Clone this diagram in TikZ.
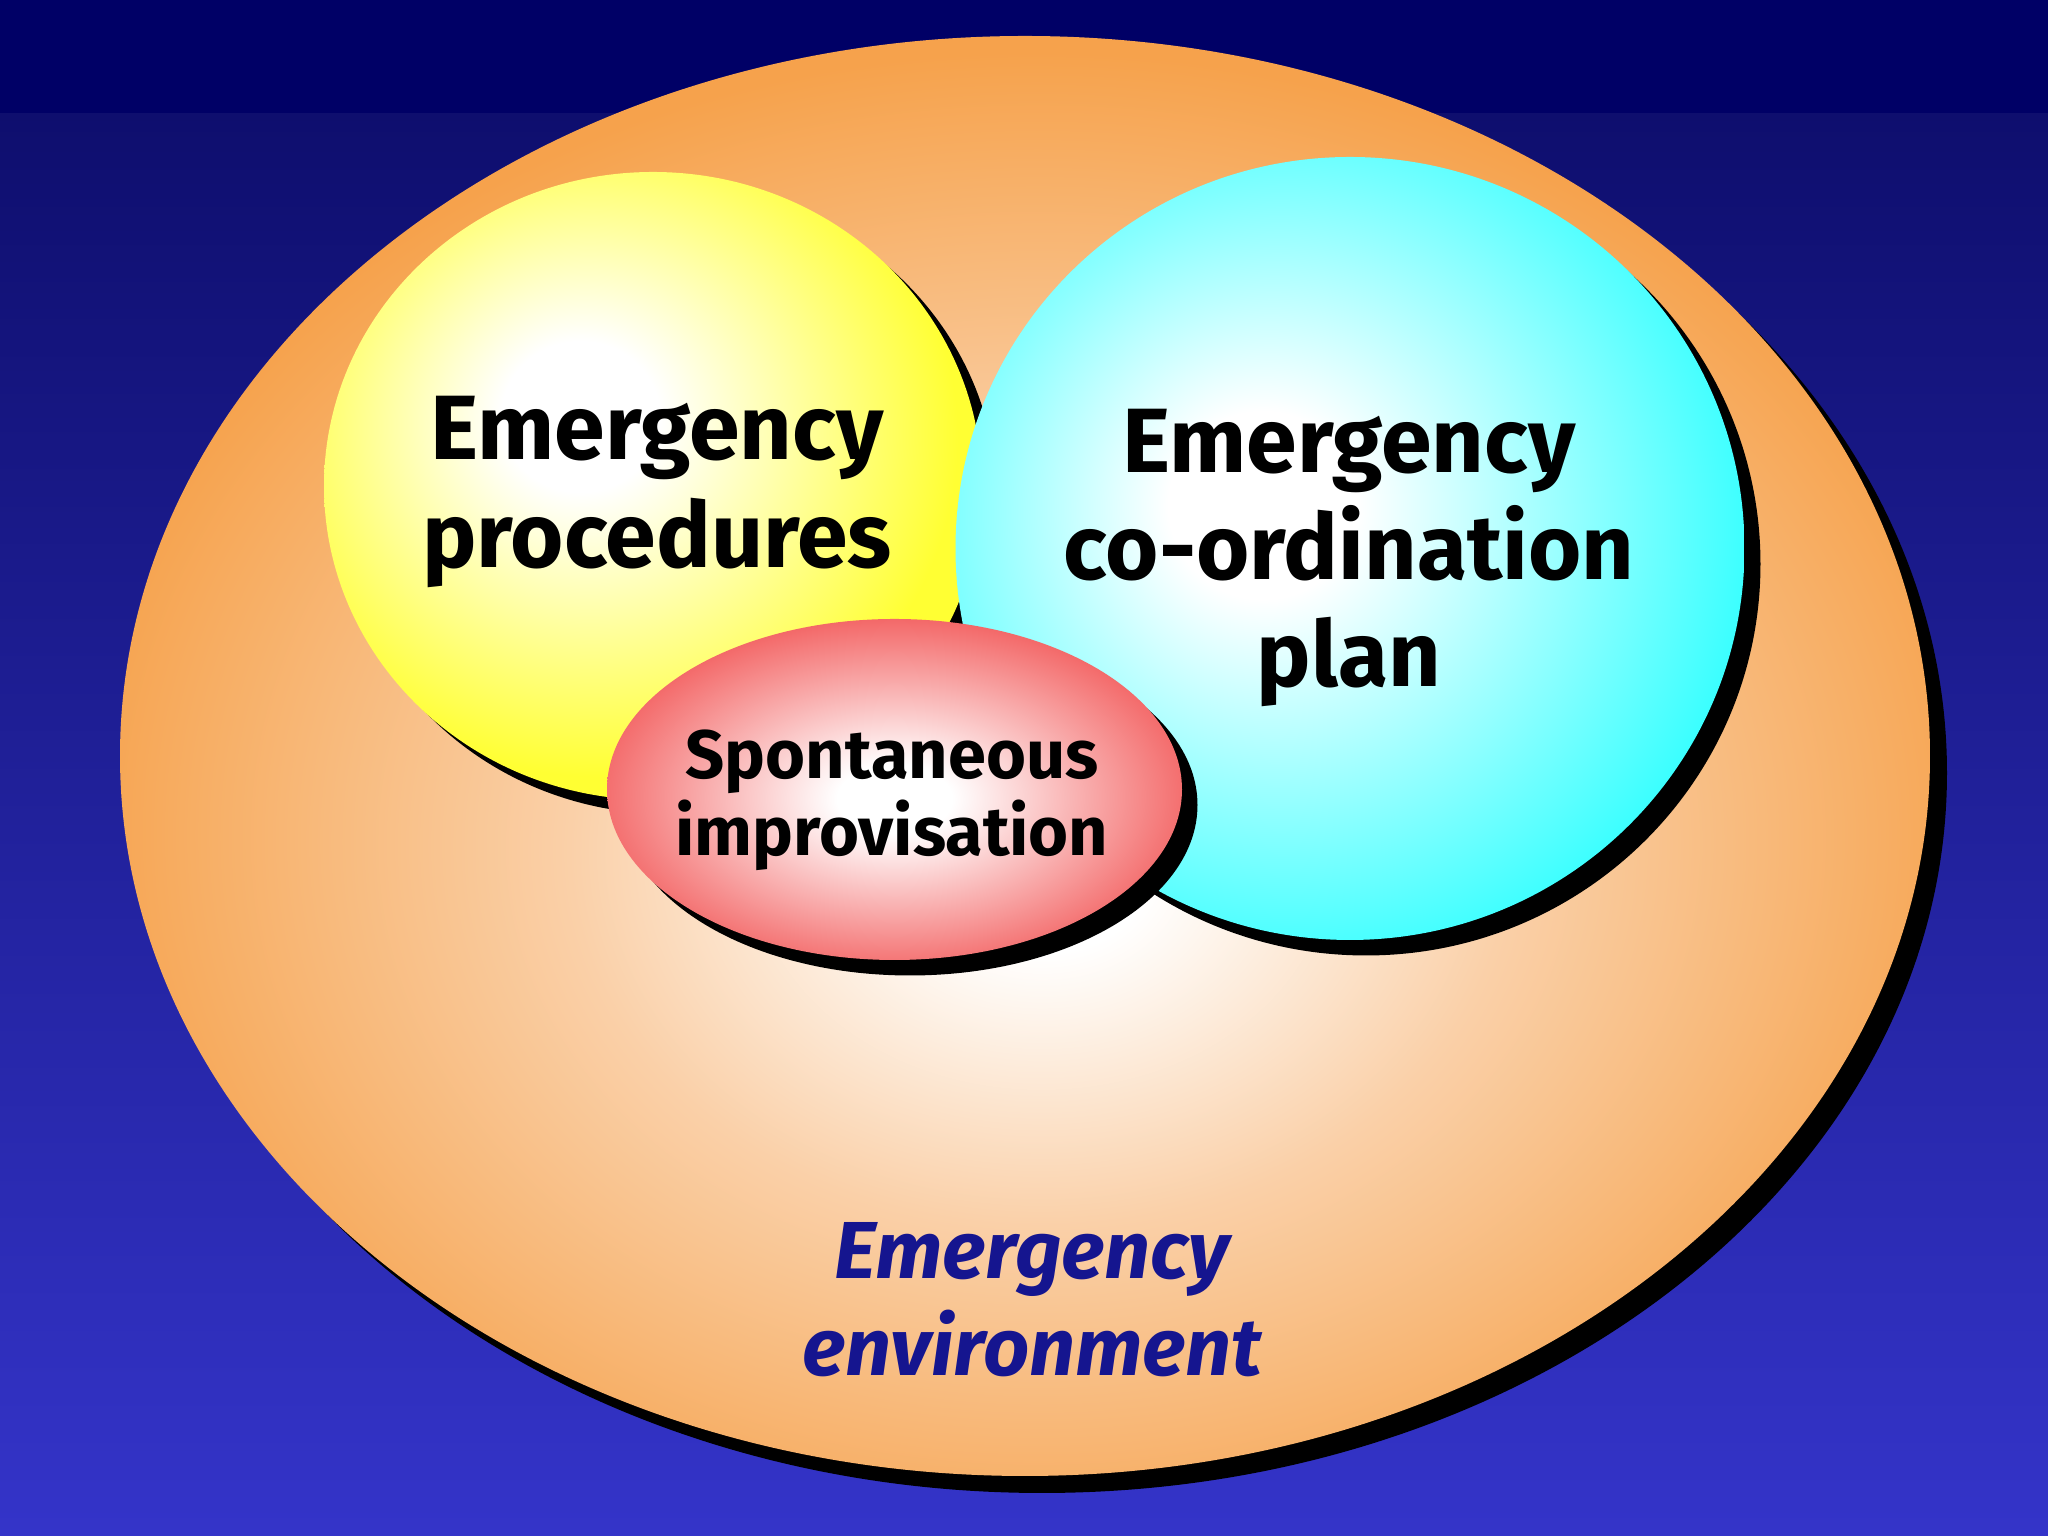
\documentclass[tikz,border=0pt]{standalone}
\usepackage{fontspec}
\setmainfont{Fira Sans}
\usepackage{tikz}

\definecolor{bgtop}{HTML}{000066}
\definecolor{bgmid}{HTML}{0E0E6E}
\definecolor{bgbot}{HTML}{3434C9}
\definecolor{envblue}{HTML}{15158F}
\definecolor{ballyellow}{HTML}{FFFF33}
\definecolor{ballyellowdk}{HTML}{E6E622}
\definecolor{ballcyan}{HTML}{33FFFF}
\definecolor{ballcyandk}{HTML}{20DCDC}
\definecolor{ballred}{HTML}{F25A5A}
\definecolor{ballreddk}{HTML}{D84444}
\definecolor{ballorange}{HTML}{F6A24C}
\definecolor{ballorangedk}{HTML}{EC8E34}
\definecolor{lightorange}{HTML}{FAD0A8}

\pgfdeclareradialshading{yellowball}{\pgfpoint{-6bp}{6bp}}{color(0bp)=(white); color(6bp)=(white); color(27bp)=(ballyellow); color(58bp)=(ballyellow); color(75bp)=(ballyellowdk)}
\pgfdeclareradialshading{cyanball}{\pgfpoint{-6bp}{3bp}}{color(0bp)=(white); color(6bp)=(white); color(30bp)=(ballcyan); color(58bp)=(ballcyan); color(75bp)=(ballcyandk)}
\pgfdeclareradialshading{redball}{\pgfpoint{0bp}{-1.5bp}}{color(0bp)=(white); color(5bp)=(white); color(28bp)=(ballred); color(52bp)=(ballred); color(75bp)=(ballreddk)}
\pgfdeclareradialshading{orangeball}{\pgfpoint{0.5bp}{-4bp}}{color(0bp)=(white); color(3bp)=(white); color(13bp)=(lightorange); color(27bp)=(ballorange); color(55bp)=(ballorange); color(75bp)=(ballorangedk)}

\begin{document}
\begin{tikzpicture}[
  shadowfill/.style={fill=black},
  big label/.style={align=center, text=black, font=\bfseries\fontsize{26}{30.5}\selectfont},
  small label/.style={align=center, text=black, font=\bfseries\fontsize{19.5}{22}\selectfont},
  env label/.style={align=center, text=envblue, font=\bfseries\itshape\fontsize{23}{27.6}\selectfont}]
\useasboundingbox (0,0) rectangle (20.48,15.36);

% background
\shade[top color=bgmid, bottom color=bgbot] (0,0) rectangle (20.48,14.23);
\fill[bgtop] (0,14.23) rectangle (20.48,15.36);

% environment
\fill[shadowfill] (10.42,7.63) ellipse [x radius=9.05, y radius=7.20];
\shade[shading=orangeball] (10.25,7.80) ellipse [x radius=9.05, y radius=7.20];

% procedures
\fill[shadowfill] (6.68,10.36) ellipse [x radius=3.29, y radius=3.14];
\shade[shading=yellowball] (6.53,10.50) ellipse [x radius=3.29, y radius=3.14];

% co-ordination plan
\fill[shadowfill] (13.66,9.72) ellipse [x radius=3.945, y radius=3.915];
\shade[shading=cyanball] (13.50,9.875) ellipse [x radius=3.945, y radius=3.915];

% improvisation
\fill[shadowfill] (9.10,7.31) ellipse [x radius=2.875, y radius=1.705];
\shade[shading=redball] (8.945,7.465) ellipse [x radius=2.875, y radius=1.705];

\node[big label] (procedures) at (6.57,10.44) {Emergency\\procedures};
\node[big label] (plan) at (13.49,9.78) {Emergency\\co-ordination\\plan};
\node[small label] (improvisation) at (8.92,7.36) {Spontaneous\\improvisation};
\node[env label] (environment) at (10.32,2.36) {Emergency\\environment};

\end{tikzpicture}
\end{document}
